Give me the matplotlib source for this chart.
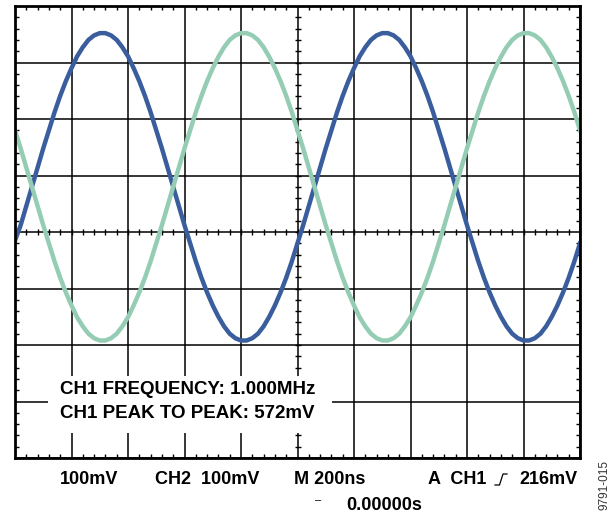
import matplotlib
matplotlib.use('Agg')
import matplotlib.pyplot as plt
import numpy as np
from matplotlib.patches import Rectangle
from matplotlib.lines import Line2D

plt.rcParams['font.family'] = ['Liberation Sans', 'DejaVu Sans']

# scope screen: 10 x 8 divisions, one sample every 0.1 div
time_div = [round(0.1 * k, 1) for k in range(101)]

# CH1 (dark blue), in divisions
ch1 = [-0.15, 0.12, 0.46, 0.80, 1.14, 1.48, 1.80, 2.12, 2.41, 2.67,
       2.90, 3.11, 3.27, 3.40, 3.48, 3.52, 3.52, 3.48, 3.40, 3.27,
       3.11, 2.90, 2.67, 2.41, 2.12, 1.80, 1.48, 1.14, 0.80, 0.46,
       0.12, -0.20, -0.52, -0.81, -1.07, -1.30, -1.50, -1.67, -1.80, -1.88,
       -1.92, -1.92, -1.88, -1.80, -1.67, -1.50, -1.30, -1.07, -0.81, -0.52,
       -0.20, 0.12, 0.46, 0.80, 1.14, 1.48, 1.80, 2.12, 2.41, 2.67,
       2.90, 3.11, 3.27, 3.40, 3.48, 3.52, 3.52, 3.48, 3.40, 3.27,
       3.11, 2.90, 2.67, 2.41, 2.12, 1.80, 1.48, 1.14, 0.80, 0.46,
       0.12, -0.20, -0.52, -0.81, -1.07, -1.30, -1.50, -1.67, -1.80, -1.88,
       -1.92, -1.92, -1.88, -1.80, -1.67, -1.50, -1.30, -1.07, -0.81, -0.52,
       -0.20]

# CH2 (light green)
ch2 = [1.80, 1.48, 1.14, 0.80, 0.46, 0.12, -0.20, -0.52, -0.81, -1.07,
       -1.30, -1.51, -1.67, -1.80, -1.88, -1.92, -1.92, -1.88, -1.80, -1.67,
       -1.51, -1.30, -1.07, -0.81, -0.52, -0.20, 0.12, 0.46, 0.80, 1.14,
       1.48, 1.80, 2.12, 2.41, 2.67, 2.90, 3.10, 3.27, 3.40, 3.48,
       3.52, 3.52, 3.48, 3.40, 3.27, 3.10, 2.90, 2.67, 2.41, 2.12,
       1.80, 1.48, 1.14, 0.80, 0.46, 0.12, -0.20, -0.52, -0.81, -1.07,
       -1.30, -1.51, -1.67, -1.80, -1.88, -1.92, -1.92, -1.88, -1.80, -1.67,
       -1.51, -1.30, -1.07, -0.81, -0.52, -0.20, 0.12, 0.46, 0.80, 1.14,
       1.48, 1.80, 2.12, 2.41, 2.67, 2.90, 3.10, 3.27, 3.40, 3.48,
       3.52, 3.52, 3.48, 3.40, 3.27, 3.10, 2.90, 2.67, 2.41, 2.12,
       1.80]

readout = ['CH1 FREQUENCY: 1.000MHz', 'CH1 PEAK TO PEAK: 572mV']

W, H = 612, 513


def fx(px):
    return px / W


def fy(py):
    return 1 - py / H


fig = plt.figure(figsize=(W / 100, H / 100), dpi=100)
ax = fig.add_axes([fx(15), 55 / H, 565 / W, 452 / H])
ax.set_xlim(0, 10)
ax.set_ylim(-4, 4)

# graticule
ax.set_xticks(np.arange(0, 11, 1))
ax.set_yticks(np.arange(-4, 5, 1))
ax.set_xticks(np.arange(0, 10.01, 0.2), minor=True)
ax.set_yticks(np.arange(-4, 4.01, 0.2), minor=True)
ax.set_xticklabels([])
ax.set_yticklabels([])
ax.tick_params(which='major', length=0)
ax.tick_params(which='minor', direction='in', length=2.8, width=1,
               top=True, right=True, color='black')
ax.set_axisbelow(True)
ax.grid(True, which='major', color='black', linewidth=1.1)
for s in ax.spines.values():
    s.set_linewidth(2)
    s.set_zorder(5)

# ticks on the centre cross
minor_x = np.arange(0, 10.01, 0.2)
minor_y = np.arange(-4, 4.01, 0.2)
ax.plot(minor_x, np.zeros_like(minor_x), linestyle='none', marker='|',
        markersize=5, markeredgewidth=1, color='black', zorder=0.8)
ax.plot(np.full_like(minor_y, 5.0), minor_y, linestyle='none', marker='_',
        markersize=5, markeredgewidth=1, color='black', zorder=0.8)

# traces
ax.plot(time_div, ch1, color='#3A5D9E', linewidth=3.2,
        solid_joinstyle='round', zorder=3)
ax.plot(time_div, ch2, color='#94CDB4', linewidth=3.2,
        solid_joinstyle='round', zorder=3.1)

# white readout box over the grid
ax.add_patch(Rectangle((0.58, -3.56), 5.03, 1.01, facecolor='white',
                       edgecolor='none', zorder=1.5))

bold = dict(fontweight='bold', color='black')
fig.text(fx(60), fy(394.5), readout[0], va='baseline', fontsize=13.5, **bold)
fig.text(fx(60), fy(418.5), readout[1], va='baseline', fontsize=13.5, **bold)

# bottom status line
fig.text(fx(60), fy(484.5), '100mV', va='baseline', fontsize=13, **bold)
fig.text(fx(155), fy(484.5), 'CH2  100mV', va='baseline', fontsize=13, **bold)
fig.text(fx(294), fy(484.5), 'M 200ns', va='baseline', fontsize=13, **bold)
fig.text(fx(428), fy(484.5), 'A  CH1', va='baseline', fontsize=13, **bold)
fig.text(fx(578), fy(484.5), '216mV', va='baseline', ha='right',
         fontsize=13, **bold)
fig.text(fx(346), fy(509.5), '0.00000s', va='baseline', fontsize=13, **bold)
fig.text(fx(318), fy(500), '\u2013', va='center', ha='center',
         fontsize=8, color='black')

# rising edge trigger glyph
fig.add_artist(Line2D([fx(495), fx(499.5), fx(503), fx(507)],
                      [fy(485), fy(485), fy(474), fy(474)],
                      color='black', linewidth=0.9))

fig.text(fx(604), fy(485), '9791-015', rotation=90, va='center',
         ha='center', fontsize=8.5, color='#333333')

fig.savefig('out.png', dpi=100)
